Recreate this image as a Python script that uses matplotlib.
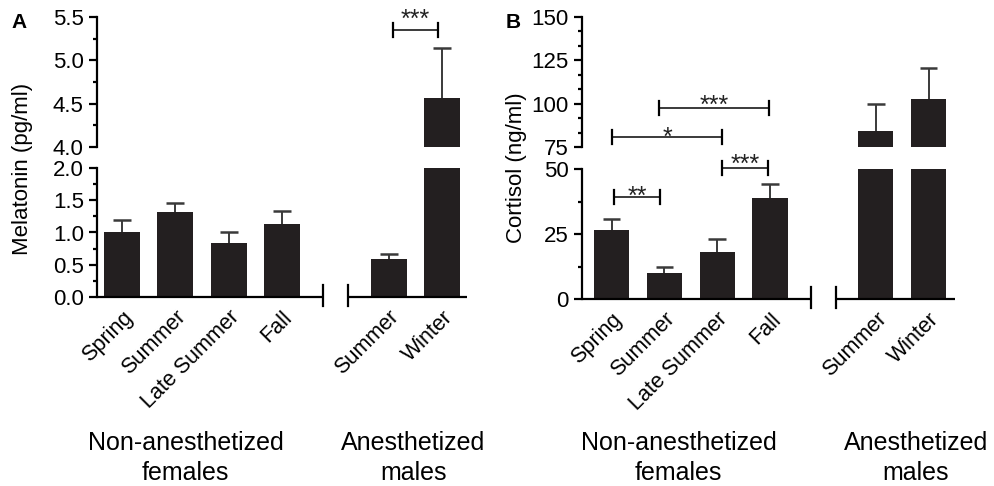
import matplotlib
matplotlib.use('Agg')
import matplotlib.pyplot as plt
import numpy as np
from matplotlib.ticker import MultipleLocator, AutoMinorLocator, FormatStrFormatter

plt.rcParams['font.family'] = ['Liberation Sans', 'DejaVu Sans']

# ---------------- data ----------------
categories = ['Spring', 'Summer', 'Late Summer', 'Fall', 'Summer', 'Winter']
positions = [0, 1, 2, 3, 5, 6]
group_labels = ['Non-anesthetized\nfemales', 'Anesthetized\nmales']

melatonin = [1.01, 1.32, 0.84, 1.13, 0.59, 4.56]
melatonin_err = [0.18, 0.13, 0.16, 0.21, 0.07, 0.58]

cortisol = [26.6, 9.9, 18.0, 38.9, 84.2, 102.6]
cortisol_err = [4.1, 2.6, 5.1, 5.4, 15.4, 17.7]

# significance brackets: (x_left, x_right, y, label, which-axis, star offset px)
melatonin_sig = [(5.08, 5.93, 5.35, '***', 'hi', 3.0)]
cortisol_sig = [(0.90, 2.98, 97.3, '***', 'hi', -4.5),
                (0.01, 2.09, 80.9, '*', 'hi', -8.5),
                (2.09, 2.96, 50.4, '***', 'lo', -3.5),
                (0.05, 0.92, 39.2, '**', 'lo', -6.5)]

W, H = 995, 486
BAR_COLOR = '#231f20'
ERR_COLOR = '#3a3a3a'
LW = 1.6

fig = plt.figure(figsize=(W / 100, H / 100), dpi=100)


def rect(x0, x1, ytop, ybot):
    return [x0 / W, 1 - ybot / H, (x1 - x0) / W, (ybot - ytop) / H]


def style_axis(ax, ylim, major, minor_n, fmt, fs=16):
    ax.set_ylim(*ylim)
    for s in ['top', 'right', 'bottom']:
        ax.spines[s].set_visible(False)
    ax.spines['left'].set_linewidth(LW)
    ax.yaxis.set_major_locator(MultipleLocator(major))
    ax.yaxis.set_minor_locator(AutoMinorLocator(minor_n))
    ax.yaxis.set_major_formatter(FormatStrFormatter(fmt))
    ax.tick_params(axis='y', which='major', direction='out', length=6, width=LW,
                   labelsize=fs, pad=3.5)
    ax.tick_params(axis='y', which='minor', direction='out', length=3.2, width=LW)
    ax.patch.set_visible(False)


def panel(xpix, lo_pix, hi_pix, xlim, lo_ylim, hi_ylim, lo_major, lo_minor,
          hi_major, hi_minor, fmt, values, errs, barw, seg_end, seg_start, sigs):
    ax_hi = fig.add_axes(rect(xpix[0], xpix[1], hi_pix[0], hi_pix[1]))
    ax_lo = fig.add_axes(rect(xpix[0], xpix[1], lo_pix[0], lo_pix[1]))
    vals = np.asarray(values)
    tops = vals + np.asarray(errs)
    pos = np.asarray(positions, dtype=float)
    capw = barw * 0.25
    for ax, yl, mj, mn in [(ax_lo, lo_ylim, lo_major, lo_minor),
                           (ax_hi, hi_ylim, hi_major, hi_minor)]:
        ax.bar(pos, vals, width=barw, color=BAR_COLOR, zorder=2)
        ax.vlines(pos, vals, tops, color=ERR_COLOR, lw=1.4, zorder=3)
        ax.hlines(tops, pos - capw, pos + capw, color=ERR_COLOR, lw=1.8, zorder=3)
        ax.set_xlim(*xlim)
        style_axis(ax, yl, mj, mn, fmt)
    ax_hi.set_xticks([])
    ax_lo.set_xticks(positions)
    ax_lo.set_xticklabels(categories, rotation=45, ha='right',
                          rotation_mode='anchor', fontsize=15.5)
    ax_lo.tick_params(axis='x', length=0, pad=7)

    # broken x axis
    lo_upp = (lo_ylim[1] - lo_ylim[0]) / (lo_pix[1] - lo_pix[0])
    ax_lo.plot([xlim[0], seg_end], [0, 0], color='k', lw=LW, clip_on=False,
               solid_capstyle='butt', zorder=5)
    ax_lo.plot([seg_start, xlim[1]], [0, 0], color='k', lw=LW, clip_on=False,
               solid_capstyle='butt', zorder=5)
    for xx in (seg_end, seg_start):
        ax_lo.plot([xx, xx], [-9 * lo_upp, 12 * lo_upp], color='k', lw=LW,
                   clip_on=False, zorder=5)

    # significance brackets
    for x1, x2, y, lab, which, off in sigs:
        ax = ax_hi if which == 'hi' else ax_lo
        pix = hi_pix if which == 'hi' else lo_pix
        yl = hi_ylim if which == 'hi' else lo_ylim
        upp = (yl[1] - yl[0]) / (pix[1] - pix[0])
        ax.plot([x1, x2], [y, y], color=ERR_COLOR, lw=1.4, clip_on=False)
        for xx in (x1, x2):
            ax.plot([xx, xx], [y - 7 * upp, y + 7 * upp], color='k', lw=LW,
                    clip_on=False)
        ax.text((x1 + x2) / 2, y + off * upp, lab, ha='center', va='baseline',
                fontsize=18, clip_on=False, color='#222222')
    return ax_lo, ax_hi


# Panel A
panel(xpix=(97, 467), lo_pix=(168, 297), hi_pix=(17, 147),
      xlim=(-0.47, 6.47), lo_ylim=(0, 2.0), hi_ylim=(4.0, 5.5),
      lo_major=0.5, lo_minor=2, hi_major=0.5, hi_minor=2, fmt='%.1f',
      values=melatonin, errs=melatonin_err, barw=0.675,
      seg_end=3.77, seg_start=4.24, sigs=melatonin_sig)

# Panel B
panel(xpix=(582, 955), lo_pix=(169.3, 299), hi_pix=(16.7, 147),
      xlim=(-0.56, 6.5), lo_ylim=(0, 50), hi_ylim=(75, 150),
      lo_major=25, lo_minor=2, hi_major=25, hi_minor=3, fmt='%d',
      values=cortisol, errs=cortisol_err, barw=0.67,
      seg_end=3.78, seg_start=4.25, sigs=cortisol_sig)

# y labels
fig.text(23 / W, 1 - 169 / H, 'Melatonin (pg/ml)', rotation=90, ha='center',
         va='center', fontsize=16)
fig.text(517 / W, 1 - 168 / H, 'Cortisol (ng/ml)', rotation=90, ha='center',
         va='center', fontsize=16)

# group labels
for xc, lab in [(185.5, group_labels[0]), (413.5, group_labels[1]),
                (678.5, group_labels[0]), (916, group_labels[1])]:
    fig.text(xc / W, 1 - 431 / H, lab, ha='center', va='top', fontsize=18,
             linespacing=1.3)

# panel letters
fig.text(11 / W, 1 - 13 / H, 'A', fontsize=15, fontweight='bold', va='top')
fig.text(506 / W, 1 - 13 / H, 'B', fontsize=15, fontweight='bold', va='top')

fig.savefig('out.png', dpi=100)
